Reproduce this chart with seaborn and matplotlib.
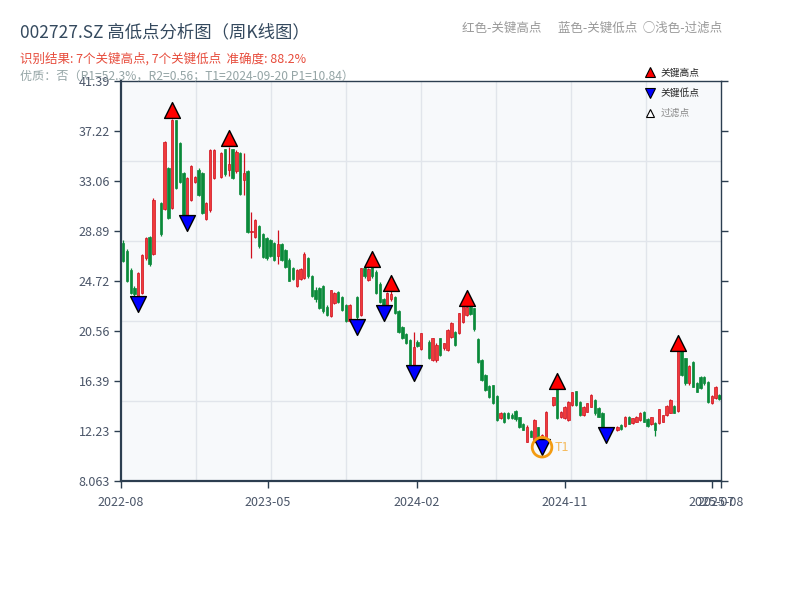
import numpy as np
import pandas as pd
import matplotlib
matplotlib.use('Agg')
import matplotlib.pyplot as plt
import matplotlib.dates as mdates
from matplotlib.lines import Line2D
import seaborn as sns

sns.set_theme(style='white')
plt.rcParams['font.family'] = ['Noto Sans CJK SC', 'DejaVu Sans']
plt.rcParams['axes.unicode_minus'] = False

# ---------------- data ----------------
holiday_weeks = ['2022-10-07', '2023-01-27', '2023-10-06', '2024-02-16', '2024-10-04', '2025-01-31']
all_weeks = pd.date_range('2022-08-05', '2025-08-15', freq='W-FRI')
dates = all_weeks[~all_weeks.isin(pd.to_datetime(holiday_weeks))]

opens = [27.9, 27.2, 25.6, 24.1, 23.3, 23.7, 26.6, 28.4, 27.0, 31.2,
         30.7, 34.1, 30.8, 38.1, 36.2, 33.7, 30.2, 31.5, 33.0, 34.0,
         33.7, 29.9, 30.6, 33.3, 33.4, 35.7, 34.0, 35.7, 33.9, 35.4,
         33.1, 33.9, 28.8, 28.4, 29.3, 28.6, 28.3, 28.1, 27.9, 26.8,
         27.8, 27.3, 26.5, 25.8, 24.3, 24.9, 25.0, 26.6, 25.1, 24.0,
         24.1, 24.3, 22.6, 21.8, 22.9, 23.8, 23.4, 22.7, 21.4, 23.4,
         21.9, 25.78, 24.8, 25.9, 25.5, 24.5, 23.2, 22.55, 23.2, 23.4,
         22.2, 20.9, 20.3, 19.8, 17.6, 19.67, 19.1, 19.67, 18.15, 18.15,
         19.95, 19.12, 18.98, 20.09, 20.5, 20.37, 21.34, 21.9, 22.6, 22.45,
         19.87, 18.14, 16.9, 15.98, 16.06, 15.15, 13.28, 13.7, 13.7, 13.6,
         13.93, 13.37, 12.81, 11.34, 12.26, 11.34, 12.59, 11.3, 11.34, 14.39,
         16.06, 13.42, 13.28, 13.14, 14.39, 15.55, 14.67, 13.56, 13.84, 14.25,
         14.81, 14.12, 13.7, 12.25, 12.31, 12.31, 12.73, 12.65, 13.43, 12.87,
         13.01, 13.15, 13.82, 13.2, 12.82, 12.93, 12.87, 13.01, 13.57, 13.76,
         14.32, 13.93, 19.15, 18.29, 16.2, 18.01, 16.2, 16.76, 16.76, 16.34,
         14.6, 14.95, 15.23]
highs = [28.1, 27.4, 25.8, 24.3, 25.5, 27.0, 28.4, 28.5, 31.6, 31.3,
         36.4, 34.2, 38.2, 38.15, 36.3, 33.8, 33.4, 34.4, 33.5, 34.1,
         33.8, 31.3, 35.7, 35.7, 35.5, 35.75, 35.9, 35.75, 35.6, 35.5,
         35.4, 34.0, 30.5, 29.9, 29.4, 28.7, 28.4, 28.2, 28.0, 29.0,
         27.9, 27.4, 26.6, 25.9, 25.7, 25.8, 27.1, 26.7, 25.2, 24.2,
         24.2, 24.4, 22.7, 24.0, 23.8, 23.9, 23.5, 22.8, 22.8, 23.5,
         25.8, 25.9, 25.8, 26.0, 25.6, 24.6, 23.3, 23.8, 24.1, 23.5,
         22.3, 21.0, 20.4, 19.9, 20.5, 19.8, 20.4, 19.8, 20.0, 19.6,
         20.0, 19.6, 20.7, 21.3, 20.6, 22.1, 22.75, 22.85, 22.7, 22.5,
         19.95, 18.2, 17.0, 16.1, 16.1, 15.2, 13.8, 13.8, 13.8, 13.7,
         14.0, 13.4, 12.9, 12.7, 12.3, 13.2, 12.6, 12.0, 13.9, 15.1,
         16.1, 13.9, 14.3, 14.7, 15.5, 15.6, 14.7, 14.3, 14.6, 15.3,
         14.9, 14.2, 13.8, 12.45, 12.5, 12.65, 12.8, 13.45, 13.5, 13.35,
         13.5, 13.8, 13.9, 13.3, 13.4, 13.0, 14.1, 13.6, 14.4, 14.9,
         14.4, 19.2, 19.2, 18.35, 17.7, 18.1, 16.3, 16.8, 16.8, 16.4,
         15.2, 16.0, 15.3]
lows = [26.3, 24.6, 23.6, 23.4, 23.3, 23.6, 26.5, 26.0, 26.9, 28.5,
        30.6, 29.9, 30.7, 32.4, 32.9, 30.2, 30.15, 31.4, 32.9, 31.8,
        30.3, 29.8, 30.5, 33.2, 33.3, 33.5, 33.5, 33.2, 33.7, 31.9,
        31.9, 28.7, 26.6, 28.3, 27.5, 26.6, 26.5, 26.7, 26.4, 26.1,
        26.4, 25.8, 24.7, 24.8, 24.2, 24.8, 24.9, 25.0, 23.4, 23.0,
        22.4, 22.1, 21.8, 21.7, 22.8, 22.9, 22.2, 21.35, 21.35, 21.3,
        21.8, 25.0, 24.7, 25.0, 23.6, 22.9, 22.5, 22.5, 23.1, 22.0,
        20.4, 19.9, 19.5, 17.4, 17.4, 19.2, 19.0, 18.2, 18.1, 18.0,
        18.5, 19.0, 18.9, 20.0, 19.3, 20.3, 21.2, 21.8, 21.9, 20.6,
        17.9, 16.4, 15.6, 15.0, 14.5, 13.1, 13.2, 12.9, 13.2, 13.2,
        13.1, 12.5, 12.3, 11.3, 11.7, 11.3, 11.4, 11.1, 11.3, 14.3,
        13.2, 13.3, 13.2, 13.1, 14.3, 14.3, 13.5, 13.5, 13.8, 14.2,
        13.6, 13.4, 12.3, 12.15, 12.2, 12.25, 12.35, 12.6, 12.8, 12.8,
        12.95, 13.1, 13.0, 12.6, 12.75, 11.82, 12.8, 12.95, 13.5, 13.7,
        13.7, 13.85, 16.85, 16.1, 16.1, 15.9, 15.45, 15.7, 16.1, 14.6,
        14.5, 14.9, 14.8]
closes = [26.4, 24.7, 23.7, 23.6, 25.4, 26.9, 28.3, 26.1, 31.5, 28.6,
          36.3, 30.0, 38.1, 32.5, 33.0, 30.25, 33.3, 34.3, 33.4, 31.9,
          30.4, 31.2, 35.6, 35.6, 35.4, 33.6, 34.5, 33.3, 35.5, 32.0,
          33.7, 28.8, 28.9, 29.8, 27.6, 26.7, 26.6, 26.8, 26.5, 27.8,
          26.5, 25.9, 24.75, 24.9, 25.6, 25.7, 27.0, 25.1, 23.5, 23.2,
          22.45, 22.2, 21.9, 23.97, 23.7, 23.0, 22.3, 21.4, 22.7, 21.75,
          25.78, 25.1, 25.7, 25.1, 23.7, 23.0, 22.6, 23.7, 23.6, 22.03,
          20.5, 20.0, 19.6, 17.45, 19.25, 19.31, 20.36, 18.28, 19.95, 19.4,
          18.56, 19.53, 20.64, 21.2, 19.4, 22.03, 22.73, 22.6, 22.0, 20.7,
          18.0, 16.48, 15.65, 15.09, 14.53, 13.15, 13.76, 13.0, 13.28, 13.3,
          13.2, 12.59, 12.31, 12.59, 11.76, 13.14, 11.48, 11.9, 13.84, 15.09,
          13.28, 13.84, 14.25, 14.67, 15.45, 14.39, 13.56, 14.25, 14.53, 15.23,
          13.7, 13.42, 12.35, 12.4, 12.45, 12.59, 12.4, 13.4, 12.82, 13.29,
          13.43, 13.76, 13.01, 12.65, 13.37, 12.3, 14.04, 13.57, 14.32, 14.82,
          13.76, 19.15, 16.9, 16.2, 17.65, 15.93, 15.51, 15.79, 16.2, 14.68,
          15.15, 15.93, 14.87]

high_idx = [12, 26, 63, 68, 87, 110, 141]
low_idx = [4, 16, 59, 66, 74, 107, 123]
t1_idx = 107

y_min, y_max = 8.063, 41.386
x_start, x_end = '2022-08-01', '2025-08-18'
tick_dates = ['2022-08-01', '2023-05-01', '2024-02-01', '2024-11-01', '2025-08-01', '2025-08-18']
tick_labels = ['2022-08', '2023-05', '2024-02', '2024-11', '2025-07', '2025-08']

df = pd.DataFrame({'date': dates, 'open': opens, 'high': highs, 'low': lows, 'close': closes})

# ---------------- figure ----------------
fig = plt.figure(figsize=(8, 6), dpi=100)
fig.patch.set_facecolor('white')
ax = fig.add_axes([121 / 800, 119 / 600, 600 / 800, 400 / 600])
ax.set_facecolor('#f7f9fb')

# grid (independent of ticks)
for f in [0.2, 0.4, 0.6, 0.8]:
    ax.plot([0, 1], [f, f], transform=ax.transAxes, color='#e1e5eb', lw=1, zorder=0.5)
for f in np.arange(1, 8) / 8:
    ax.plot([f, f], [0, 1], transform=ax.transAxes, color='#e1e5eb', lw=1, zorder=0.5)

up = df['close'] >= df['open']
red_face, red_edge = '#ef3b3b', '#d0101e'
green_c = '#0a8a3a'
xnum = mdates.date2num(df['date'])
body_w = 4.4

# wicks
ax.vlines(xnum[up], df['low'][up], df['high'][up], color=red_edge, lw=0.9, zorder=2)
ax.vlines(xnum[~up], df['low'][~up], df['high'][~up], color=green_c, lw=0.9, zorder=2)
# bodies
bh = (df['close'] - df['open']).abs().clip(lower=0.08)
bb = df[['open', 'close']].min(axis=1)
ax.bar(xnum[up], bh[up], bottom=bb[up], width=body_w, color=red_face,
       edgecolor=red_edge, linewidth=0.5, zorder=3)
ax.bar(xnum[~up], bh[~up], bottom=bb[~up], width=body_w, color=green_c,
       edgecolor=green_c, linewidth=0.5, zorder=3)

# key points via seaborn
hp = pd.DataFrame({'date': xnum[high_idx], 'y': df['high'].values[high_idx] * 1.02})
lp = pd.DataFrame({'date': xnum[low_idx], 'y': df['low'].values[low_idx] * 0.98})
sns.scatterplot(data=hp, x='date', y='y', marker='^', s=130, color='#ff0000',
                edgecolor='black', linewidth=1.0, ax=ax, zorder=5, legend=False)
sns.scatterplot(data=lp, x='date', y='y', marker='v', s=130, color='#0000ff',
                edgecolor='black', linewidth=1.0, ax=ax, zorder=5, legend=False)

# T1 circle
t1x = xnum[t1_idx]
t1y = df['low'].values[t1_idx] * 0.98
ax.scatter([t1x], [t1y], s=200, facecolors='none', edgecolors='#f39c12', linewidths=2, zorder=6)
ax.annotate('T1', (t1x, t1y), xytext=(9, 0), textcoords='offset points', va='center',
            ha='left', fontsize=9, color='#f5b041', alpha=0.85, zorder=6)

ax.set_xlim(mdates.datestr2num(x_start), mdates.datestr2num(x_end))
ax.set_ylim(y_min, y_max)
ax.set_xlabel('')
ax.set_ylabel('')

yt = np.linspace(y_min, y_max, 9)
ax.set_yticks(yt)
ax.set_yticklabels(['{:.4g}'.format(v) for v in yt])
ax.set_xticks(mdates.datestr2num(tick_dates))
ax.set_xticklabels(tick_labels)

ax.tick_params(axis='both', which='both', direction='out', length=5, width=1,
               color='#2c3e50', labelsize=9, labelcolor='#4a5568', pad=3)
ax.tick_params(axis='y', right=True, left=True)
ax.tick_params(axis='x', bottom=True, top=False, pad=6)

for side, lw in [('left', 1.6), ('bottom', 1.6), ('top', 1.0), ('right', 1.0)]:
    ax.spines[side].set_visible(True)
    ax.spines[side].set_color('#2c3e50')
    ax.spines[side].set_linewidth(lw)

# legend
handles = [
    Line2D([], [], marker='^', linestyle='none', markersize=7, markerfacecolor='#ff0000', markeredgecolor='black', markeredgewidth=0.8),
    Line2D([], [], marker='v', linestyle='none', markersize=7, markerfacecolor='#0000ff', markeredgecolor='black', markeredgewidth=0.8),
    Line2D([], [], marker='^', linestyle='none', markersize=6, markerfacecolor='white', markeredgecolor='black', markeredgewidth=0.8),
]
leg = ax.legend(handles, ['关键高点', '关键低点', '过滤点'], loc='upper left',
                bbox_to_anchor=(0.862, 1.05), frameon=False, fontsize=7,
                labelspacing=1.05, handlelength=1.0, handletextpad=0.6, borderpad=0.2)
for t, c in zip(leg.get_texts(), ['#222222', '#222222', '#888888']):
    t.set_color(c)

# texts
fig.text(20 / 800, 1 - 32 / 600, '002727.SZ 高低点分析图（周K线图）', fontsize=12.5,
         color='#34495e', va='center', ha='left')
fig.text(20 / 800, 1 - 59 / 600, '识别结果: 7个关键高点, 7个关键低点  准确度: 88.2%',
         fontsize=9, color='#e74c3c', va='center', ha='left')
fig.text(20 / 800, 1 - 76 / 600, '优质：否（R1=52.3%，R2=0.56；T1=2024-09-20 P1=10.84）',
         fontsize=8.7, color='#95a5a6', va='center', ha='left', zorder=0)
fig.text(462 / 800, 1 - 28 / 600, '红色-关键高点      蓝色-关键低点  ○浅色-过滤点',
         fontsize=9, color='#999999', va='center', ha='left')

fig.savefig('out.png', dpi=100)
